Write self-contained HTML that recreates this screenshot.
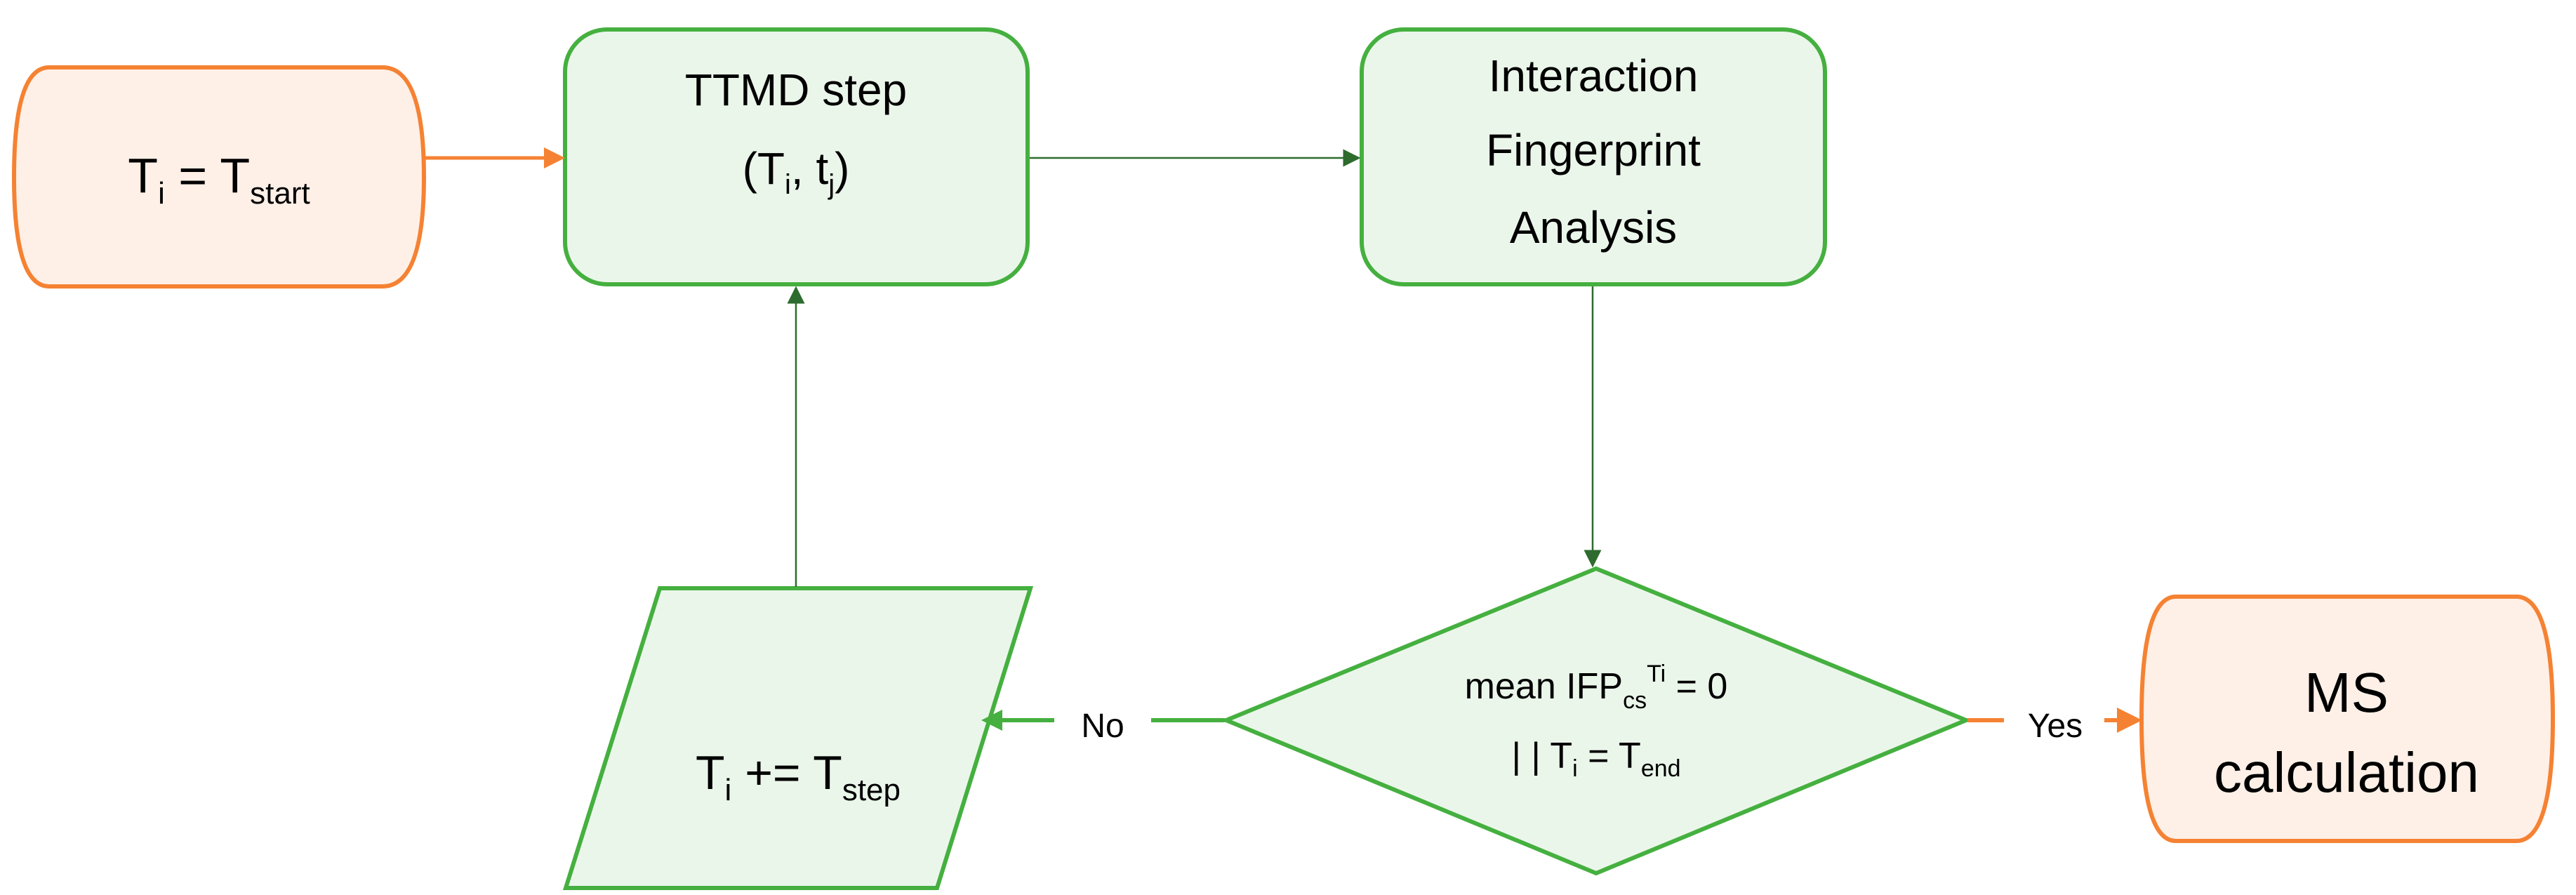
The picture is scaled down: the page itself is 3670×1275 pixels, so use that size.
<!DOCTYPE html>
<html><head><meta charset="utf-8"><style>
html,body{margin:0;padding:0;background:#fff;}
svg{display:block;}
text{font-family:"Liberation Sans",sans-serif;fill:#000;}
</style></head><body>
<svg width="3670" height="1275" viewBox="0 0 3670 1275" xmlns="http://www.w3.org/2000/svg">
<defs>
<marker id="ao" markerWidth="6" markerHeight="6" refX="5" refY="3" orient="auto" markerUnits="strokeWidth"><path d="M0,0 L6,3 L0,6 z" fill="#f58233"/></marker>
<marker id="ag" markerWidth="10" markerHeight="10" refX="9" refY="5" orient="auto" markerUnits="strokeWidth"><path d="M0,0 L10,5 L0,10 z" fill="#2e6b2e"/></marker>
<marker id="agb" markerWidth="5" markerHeight="5" refX="4" refY="2.5" orient="auto" markerUnits="strokeWidth"><path d="M0,0 L5,2.5 L0,5 z" fill="#45b03f"/></marker>
</defs>

<!-- Start terminal -->
<path d="M70,96 L545,96 Q604,96 604,252 Q604,408 545,408 L70,408 Q20,408 20,252 Q20,96 70,96 Z" fill="#fef0e7" stroke="#f58233" stroke-width="6"/>
<text x="312" y="274" font-size="70" text-anchor="middle">T<tspan font-size="44" dy="16">i</tspan><tspan dy="-16"> = T</tspan><tspan font-size="44" dy="16">start</tspan></text>

<!-- TTMD -->
<rect x="805" y="42" width="659" height="363" rx="60" fill="#ebf6eb" stroke="#45b03f" stroke-width="6"/>
<text x="1134" y="150" font-size="64" text-anchor="middle">TTMD step</text>
<text x="1134" y="262" font-size="64" text-anchor="middle">(T<tspan font-size="40" dy="14">i</tspan><tspan dy="-14">, t</tspan><tspan font-size="40" dy="14">j</tspan><tspan dy="-14">)</tspan></text>

<!-- IFA -->
<rect x="1940" y="42" width="660" height="363" rx="60" fill="#ebf6eb" stroke="#45b03f" stroke-width="6"/>
<text x="2270" y="130" font-size="64" text-anchor="middle">Interaction</text>
<text x="2270" y="236" font-size="64" text-anchor="middle">Fingerprint</text>
<text x="2270" y="346" font-size="64" text-anchor="middle">Analysis</text>

<!-- Diamond -->
<polygon points="2274,810 2801,1026 2274,1244 1747,1026" fill="#ebf6eb" stroke="#45b03f" stroke-width="6"/>
<text x="2274" y="995" font-size="52" text-anchor="middle">mean IFP<tspan font-size="34" dy="14">cs</tspan><tspan font-size="34" dy="-38">Ti</tspan><tspan dy="24"> = 0</tspan></text>
<text x="2274" y="1094" font-size="52" text-anchor="middle">| | T<tspan font-size="34" dy="12">i</tspan><tspan dy="-12"> = T</tspan><tspan font-size="34" dy="12">end</tspan></text>

<!-- Parallelogram -->
<polygon points="940,838 1468,838 1335,1265 806,1265" fill="#ebf6eb" stroke="#45b03f" stroke-width="6"/>
<text x="1137" y="1124" font-size="68" text-anchor="middle">T<tspan font-size="44" dy="16">i</tspan><tspan dy="-16"> += T</tspan><tspan font-size="44" dy="16">step</tspan></text>

<!-- MS -->
<path d="M3100,850 L3585,850 Q3637,850 3637,1024 Q3637,1198 3585,1198 L3100,1198 Q3051,1198 3051,1024 Q3051,850 3100,850 Z" fill="#fef0e7" stroke="#f58233" stroke-width="6"/>
<text x="3343" y="1014" font-size="80" text-anchor="middle">MS</text>
<text x="3343" y="1128" font-size="80" text-anchor="middle">calculation</text>

<!-- connectors -->
<line x1="606" y1="225" x2="800" y2="225" stroke="#f58233" stroke-width="5" marker-end="url(#ao)"/>
<line x1="1467" y1="225" x2="1936" y2="225" stroke="#2e6b2e" stroke-width="2.5" marker-end="url(#ag)"/>
<line x1="2269" y1="408" x2="2269" y2="806" stroke="#2e6b2e" stroke-width="2.5" marker-end="url(#ag)"/>
<line x1="1134" y1="836" x2="1134" y2="410" stroke="#2e6b2e" stroke-width="2.5" marker-end="url(#ag)"/>
<line x1="1745" y1="1026" x2="1640" y2="1026" stroke="#45b03f" stroke-width="6"/>
<line x1="1502" y1="1026" x2="1404" y2="1026" stroke="#45b03f" stroke-width="6" marker-end="url(#agb)"/>
<text x="1571" y="1050" font-size="48" text-anchor="middle">No</text>
<line x1="2803" y1="1026" x2="2855" y2="1026" stroke="#f58233" stroke-width="6"/>
<line x1="2998" y1="1026" x2="3046" y2="1026" stroke="#f58233" stroke-width="6" marker-end="url(#ao)"/>
<text x="2928" y="1050" font-size="48" text-anchor="middle">Yes</text>
</svg>
</body></html>
